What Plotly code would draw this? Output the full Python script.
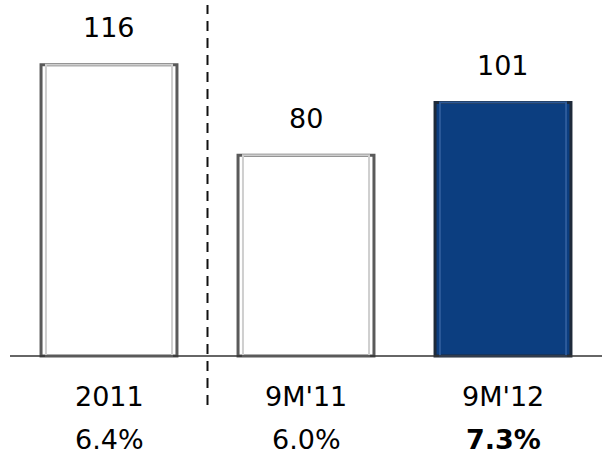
import plotly.graph_objects as go

categories = ["2011", "9M'11", "9M'12"]
values = [116, 80, 101]
margins_pct = ["6.4%", "6.0%", "<b>7.3%</b>"]
fill_colors = ["#FFFFFF", "#FFFFFF", "#0C3E80"]
line_colors = ["#5A5A5A", "#5A5A5A", "#1E2A3A"]

W, H = 602, 454
base_px = 356          # baseline pixel row from top
px_per_unit = 2.51
y_top = base_px / px_per_unit
y_bot = -(H - base_px) / px_per_unit

FONT = "DejaVu Sans, Verdana, sans-serif"
FS = 27

fig = go.Figure()
fig.add_trace(go.Bar(
    x=list(range(len(categories))), y=values, width=0.69,
    marker=dict(color=fill_colors, line=dict(color=line_colors, width=3)),
    hoverinfo="skip",
))
# inner bevel outline
fig.add_trace(go.Bar(
    x=list(range(len(categories))), y=values, width=0.64,
    marker=dict(color="rgba(0,0,0,0)",
                line=dict(color=["#CFCFCF", "#CFCFCF", "#2C5A9A"], width=2)),
    hoverinfo="skip",
))

for i, (c, v, p) in enumerate(zip(categories, values, margins_pct)):
    fig.add_annotation(x=i, y=v, text=str(v), showarrow=False, yanchor="middle",
                       yshift=37, font=dict(family=FONT, size=FS, color="#000"))
    fig.add_annotation(x=i, y=0, text=c, showarrow=False, yanchor="middle",
                       yshift=-40, font=dict(family=FONT, size=FS, color="#000"))
    fig.add_annotation(x=i, y=0, text=p, showarrow=False, yanchor="middle",
                       yshift=-83, font=dict(family=FONT, size=FS, color="#000"))

# baseline
fig.add_shape(type="line", xref="paper", yref="y", x0=10 / W, x1=1, y0=0, y1=0,
              line=dict(color="#333333", width=1.5), layer="above")
# dashed separator
fig.add_shape(type="line", xref="x", yref="paper", x0=0.5, x1=0.5,
              y0=1 - 405 / H, y1=1 - 5 / H,
              line=dict(color="#111111", width=2, dash="10px,7px"))

x0 = -109 / 197
x1 = (W - 109) / 197
fig.update_layout(
    width=W, height=H, margin=dict(l=0, r=0, t=0, b=0),
    paper_bgcolor="white", plot_bgcolor="white",
    barmode="overlay", showlegend=False,
    xaxis=dict(range=[x0, x1], visible=False, fixedrange=True),
    yaxis=dict(range=[y_bot, y_top], visible=False, fixedrange=True),
)
fig.write_html("out.html")
